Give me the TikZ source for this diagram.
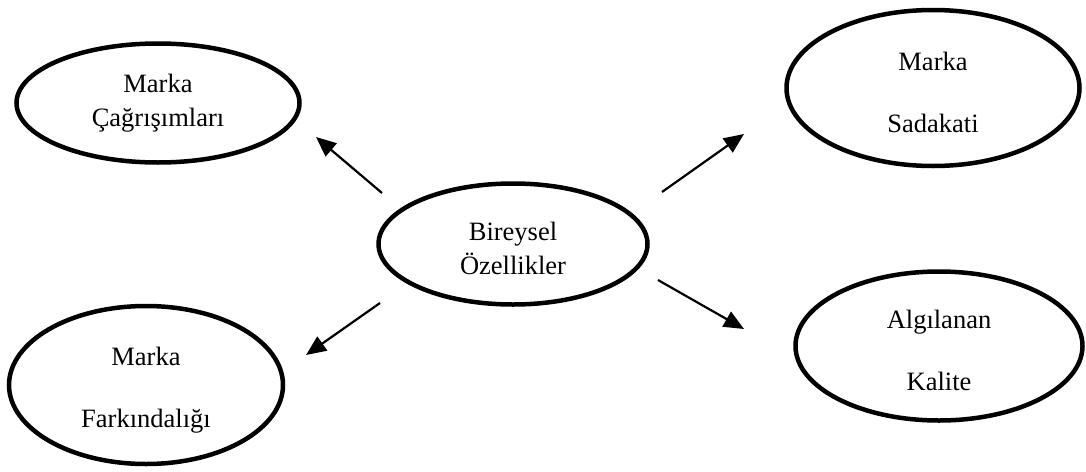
\documentclass[tikz,border=0pt]{standalone}
\usepackage{fontspec}
\setmainfont{Liberation Serif}
\usepackage{tikz}
\usetikzlibrary{arrows.meta,shapes.geometric}

% extra room above the first line, pushes the text a bit lower in the oval
\newcommand{\topstrut}{\rule{0pt}{28pt}}

\begin{document}
\begin{tikzpicture}[
    x=1pt, y=-1pt,
    font=\fontsize{26.5}{34}\selectfont,
    oval/.style={draw, ellipse, line width=4.5pt, inner sep=0pt, align=center},
    wide/.style={font=\fontsize{26.5}{62}\selectfont},
    arr/.style={-{Triangle[length=20pt, width=17pt]}, line width=2.2pt},
  ]
  \useasboundingbox (0,0) rectangle (1086,471);

  % ===== centre =====
  \node[oval, minimum width=269pt, minimum height=121pt] (bireysel) at (513,244) {\topstrut Bireysel\\Özellikler};

  % ===== left column =====
  \node[oval, minimum width=283pt, minimum height=119pt] (cagrisim) at (158,103) {Marka\\Çağrışımları};
  \node[oval, wide, minimum width=274pt, minimum height=158pt] (farkindalik) at (146,385) {\topstrut Marka\\Farkındalığı};

  % ===== right column =====
  \node[oval, wide, minimum width=293pt, minimum height=156pt] (sadakat) at (933,88) {\topstrut Marka\\Sadakati};
  \node[oval, wide, minimum width=287pt, minimum height=149pt] (kalite) at (939,346) {\topstrut Algılanan\\Kalite};

  % Arrow ends (free, between the ovals)
  \coordinate (cagrisimTail) at (382,193);
  \coordinate (cagrisimTip)  at (316,137);
  \coordinate (sadakatTail)  at (662,192);
  \coordinate (sadakatTip)   at (744,134);
  \coordinate (farkTail)     at (380,303);
  \coordinate (farkTip)      at (306,355);
  \coordinate (kaliteTail)   at (658,280);
  \coordinate (kaliteTip)    at (744,329);

  \draw[arr] (cagrisimTail) -- (cagrisimTip);
  \draw[arr] (sadakatTail)  -- (sadakatTip);
  \draw[arr] (farkTail)     -- (farkTip);
  \draw[arr] (kaliteTail)   -- (kaliteTip);

\end{tikzpicture}
\end{document}
